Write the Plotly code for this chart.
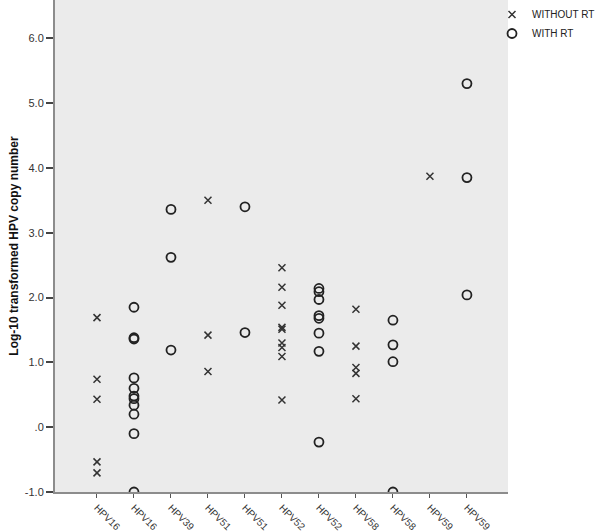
import plotly.graph_objects as go

# Category positions (duplicated labels: one column per group)
tick_labels = ["HPV16", "HPV16", "HPV39", "HPV51", "HPV51", "HPV52",
               "HPV52", "HPV58", "HPV58", "HPV59", "HPV59"]

# WITHOUT RT values per column index
without_cols = [0, 3, 5, 7, 9]
without_vals = {
    0: [1.69, 0.74, 0.43, -0.535, -0.705],
    3: [3.50, 1.42, 0.86],
    5: [2.46, 2.16, 1.88, 1.54, 1.51, 1.30, 1.23, 1.09, 0.42],
    7: [1.82, 1.25, 0.92, 0.83, 0.44],
    9: [3.87],
}

# WITH RT values per column index
with_cols = [1, 2, 4, 6, 8, 10]
with_vals = {
    1: [1.85, 1.38, 1.36, 0.76, 0.60, 0.48, 0.44, 0.34, 0.20, -0.10, -1.0],
    2: [3.36, 2.62, 1.19],
    4: [3.40, 1.46],
    6: [2.14, 2.09, 1.97, 1.72, 1.68, 1.45, 1.17, -0.23],
    8: [1.65, 1.27, 1.01, -1.0],
    10: [5.30, 3.85, 2.04],
}

y_ticks = [-1, 0, 1, 2, 3, 4, 5, 6]
y_ticktext = ["-1.0", ".0", "1.0", "2.0", "3.0", "4.0", "5.0", "6.0"]

wx, wy = [], []
for c in without_cols:
    for v in without_vals[c]:
        wx.append(c)
        wy.append(v)
ox, oy = [], []
for c in with_cols:
    for v in with_vals[c]:
        ox.append(c)
        oy.append(v)

fig = go.Figure()
fig.add_trace(go.Scatter(
    x=wx, y=wy, mode="markers", name="WITHOUT RT",
    marker=dict(symbol="x-thin", size=7, color="#333333",
                line=dict(color="#333333", width=1.5)),
))
fig.add_trace(go.Scatter(
    x=ox, y=oy, mode="markers", name="WITH RT",
    marker=dict(symbol="circle-open", size=9, color="#222222",
                line=dict(color="#222222", width=1.8)),
))

font_family = "Arial, Liberation Sans, sans-serif"
fig.update_layout(
    width=600, height=531,
    margin=dict(l=55, r=92, t=0, b=39, autoexpand=False),
    paper_bgcolor="white",
    plot_bgcolor="#EBEBEB",
    font=dict(family=font_family, size=11, color="#333333"),
    showlegend=True,
    legend=dict(xref="container", yref="container",
                x=0.82, y=1.004, xanchor="left", yanchor="top",
                font=dict(size=10, color="#222222"),
                bgcolor="rgba(0,0,0,0)", itemwidth=30,
                tracegroupgap=0),
    xaxis=dict(
        range=[-1.135, 11.11],
        tickmode="array",
        tickvals=list(range(len(tick_labels))),
        ticktext=tick_labels,
        tickangle=45,
        ticks="outside", ticklen=4, tickcolor="#555555", tickwidth=1,
        showgrid=False, zeroline=False,
        showline=True, linecolor="#8C8C8C", linewidth=2,
        tickfont=dict(size=10, color="#333333"),
        automargin=False,
    ),
    yaxis=dict(
        range=[-1.0, 6.59],
        tickmode="array",
        tickvals=y_ticks,
        ticktext=y_ticktext,
        ticks="outside", ticklen=7, tickcolor="#444444", tickwidth=2,
        showgrid=False, zeroline=False,
        showline=True, linecolor="#8C8C8C", linewidth=2,
        tickfont=dict(size=11, color="#333333"),
        title=dict(text="<b>Log-10 transformed HPV copy number</b>",
                   font=dict(size=12, color="#111111"), standoff=4),
        automargin=False,
    ),
)

fig.write_html(
    "out.html",
    config={"displayModeBar": False},
    post_script="document.body.style.margin='0';document.body.style.overflow='hidden';",
)
